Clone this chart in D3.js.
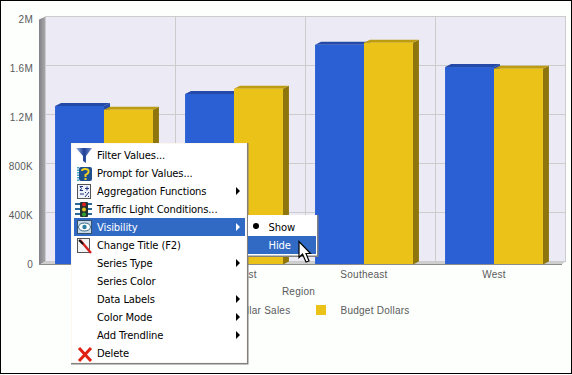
<!DOCTYPE html>
<html>
<head>
<meta charset="utf-8">
<script src="https://cdnjs.cloudflare.com/ajax/libs/d3/7.8.5/d3.min.js"></script>
<style>
  html, body { margin: 0; padding: 0; background: #fff; overflow: hidden; }
  svg { display: block; }
  .chartText { font-family: "Liberation Sans", Arial, sans-serif; font-size: 10px; fill: #5a5a5a; letter-spacing: 0.25px; }
  .menuText { font-family: "DejaVu Sans", Tahoma, sans-serif; font-size: 10px; letter-spacing: -0.13px; }
  .domain { display: none; }
</style>
</head>
<body>
<div id="chart"></div>
<script>
// data
const regions = ["Midwest", "Northeast", "Southeast", "West"];
const seriesNames = ["Dollar Sales", "Budget Dollars"];
const dollarSales = [1294000, 1392000, 1794000, 1612000];
const budgetDollars = [1264000, 1435000, 1811000, 1598000];
const tickValues = [0, 400000, 800000, 1200000, 1600000, 2000000];
const tickLabels = ["0", "400K", "800K", "1.2M", "1.6M", "2M"];

const menuItems = ["Filter Values...", "Prompt for Values...", "Aggregation Functions", "Traffic Light Conditions...",
    "Visibility", "Change Title (F2)", "Series Type", "Series Color", "Data Labels", "Color Mode", "Add Trendline", "Delete"];
const menuArrows = ["Aggregation Functions", "Visibility", "Series Type", "Data Labels", "Color Mode", "Add Trendline"];
const subMenuItems = ["Show", "Hide"];

const colors = { blue: "#2b60d4", blueTop: "#2449a6", blueSide: "#2449a6", yellow: "#ebc218", yellowTop: "#bd9c12", yellowSide: "#8f760c" };
const depthX = 6, depthY = 3;

const svg = d3.select("#chart").append("svg").attr("width", 572).attr("height", 375);
const defs = svg.append("defs");

function gradient(id, stops, x2, y2) {
    const g = defs.append("linearGradient").attr("id", id).attr("x1", 0).attr("y1", 0).attr("x2", x2).attr("y2", y2);
    stops.forEach((c, i) => g.append("stop").attr("offset", i / (stops.length - 1)).attr("stop-color", c));
}
gradient("sideWall", ["#808086", "#aaaaae"], 1, 0);
gradient("funnel", ["#9db8e8", "#1f3f96", "#6f8fd0"], 1, 0);

// outer frame
svg.append("rect").attr("x", 0.5).attr("y", 0.5).attr("width", 571).attr("height", 373)
    .attr("fill", "#fdfffd").attr("stroke", "#000");

// back wall scales
const xBack = d3.scaleBand().domain(regions).range([45.5, 565.5]);
const y = d3.scaleLinear().domain([0, 2000000]).range([261.5, 16.5]);
// front of the bars sits one depth step in front of the wall
const xFront = d3.scaleBand().domain(regions).range([45 - depthX, 565 - depthX]).paddingInner(0.247).paddingOuter(0.1235);
const xSeries = d3.scaleBand().domain(seriesNames).range([0, xFront.bandwidth()]);
const yFront = v => y(v) + depthY;

// wall, floor
svg.append("rect").attr("x", xBack.range()[0]).attr("y", y(2000000))
    .attr("width", xBack.range()[1] - xBack.range()[0]).attr("height", y(0) - y(2000000)).attr("fill", "#eceaf5");
svg.append("path").attr("fill", "url(#sideWall)")
    .attr("d", d3.line()([[39, 19.5], [45.5, 16.5], [45.5, 261.5], [39, 265]]));
svg.append("path").attr("fill", "#cfcfcf")
    .attr("d", d3.line()([[39, 265], [45.5, 261.5], [565.5, 261.5], [561, 265]]));

// grid
const grid = svg.append("g");
grid.selectAll("line.h").data(tickValues).enter().append("line")
    .attr("x1", 45).attr("x2", 566).attr("y1", d => y(d)).attr("y2", d => y(d))
    .attr("stroke", "#cccccc").attr("stroke-width", 1);
grid.selectAll("line.v").data(regions.concat("end")).enter().append("line")
    .attr("x1", (d, i) => 45.5 + i * xBack.step()).attr("x2", (d, i) => 45.5 + i * xBack.step())
    .attr("y1", y(2000000)).attr("y2", y(0))
    .attr("stroke", "#cccccc").attr("stroke-width", 1);

// axes
const yAxis = d3.axisLeft(y).tickValues(tickValues).tickFormat((d, i) => tickLabels[i]).tickSize(0).tickPadding(0);
svg.append("g").attr("transform", "translate(33,3)").call(yAxis)
    .selectAll("text").attr("class", "chartText").attr("fill", null);
const xAxis = d3.axisBottom(xFront).tickSize(0).tickPadding(0);
svg.append("g").attr("transform", "translate(0,271)").call(xAxis)
    .selectAll("text").attr("class", "chartText").attr("fill", null);

svg.append("text").attr("class", "chartText").attr("x", 298.5).attr("y", 295).attr("text-anchor", "middle").text("Region");

// bars
const seriesData = [
    { name: seriesNames[0], values: dollarSales, front: colors.blue, top: colors.blueTop, side: colors.blueSide },
    { name: seriesNames[1], values: budgetDollars, front: colors.yellow, top: colors.yellowTop, side: colors.yellowSide }
];
regions.forEach((region, i) => {
    seriesData.forEach(s => {
        const x0 = xFront(region) + xSeries(s.name);
        const x1 = x0 + xSeries.bandwidth();
        const top = yFront(s.values[i]);
        const base = yFront(0);
        const g = svg.append("g");
        g.append("path").attr("fill", s.side)
            .attr("d", d3.line()([[x1, top], [x1 + depthX, top - depthY], [x1 + depthX, base - depthY], [x1, base]]));
        g.append("path").attr("fill", s.top)
            .attr("d", d3.line()([[x0, top], [x0 + depthX, top - depthY], [x1 + depthX, top - depthY], [x1, top]]));
        g.append("rect").attr("x", x0).attr("y", top).attr("width", x1 - x0).attr("height", base - top).attr("fill", s.front);
    });
});
svg.append("line").attr("x1", 39).attr("x2", 562).attr("y1", 264.5).attr("y2", 264.5).attr("stroke", "#8c8c8c");

// legend
const legendX = [209, 316];
seriesData.forEach((s, i) => {
    svg.append("rect").attr("x", legendX[i]).attr("y", 305).attr("width", 10).attr("height", 10).attr("fill", s.front);
    svg.append("text").attr("class", "chartText").attr("x", legendX[i] + 24.5).attr("y", 313.5).text(s.name);
});

// context menu
const menuX = 71, menuY = 143, menuW = 176, menuH = 220, rowH = 18, menuTop = 146;
const menu = svg.append("g");
menu.append("rect").attr("x", menuX).attr("y", menuY).attr("width", menuW + 1.5).attr("height", menuH + 1.5).attr("fill", "#808080");
menu.append("rect").attr("x", menuX).attr("y", menuY).attr("width", menuW).attr("height", menuH).attr("fill", "#fbf7ee");
menu.append("rect").attr("x", menuX + 1).attr("y", menuY + 1).attr("width", menuW - 2).attr("height", menuH - 2).attr("fill", "#ffffff");
menuItems.forEach((label, i) => {
    const rowY = menuTop + i * rowH;
    const active = label === "Visibility";
    if (active) menu.append("rect").attr("x", 74).attr("y", rowY).attr("width", 171).attr("height", rowH).attr("fill", "#316ac5");
    menu.append("text").attr("class", "menuText").attr("x", 97).attr("y", rowY + 13)
        .style("fill", active ? "#fff" : "#000").text(label);
    if (menuArrows.includes(label)) {
        menu.append("path").attr("fill", active ? "#fff" : "#000")
            .attr("d", d3.line()([[236, rowY + 5], [240, rowY + 9], [236, rowY + 13]]));
    }
});

// menu icons, simple shapes
const icons = svg.append("g");
// filter
icons.append("path").attr("fill", "url(#funnel)").attr("d", "M76,148 L92,148 L86,156 L86,163 L83,161 L83,156 Z");
// prompt
icons.append("rect").attr("x", 79).attr("y", 167).attr("width", 13).attr("height", 14).attr("rx", 2).attr("fill", "#1d4f8f");
icons.append("path").attr("stroke", "#4aa3c8").attr("stroke-width", 2).attr("stroke-dasharray", "1.5 1").attr("d", "M78,167 L78,181");
icons.append("path").attr("fill", "none").attr("stroke", "#f0d020").attr("stroke-width", 2)
    .attr("d", "M82,171 Q82,169 85,169 Q89,169 88.5,172 Q88,174 85.5,175 L85.5,177 M85.5,178 L85.5,180");
// aggregation
icons.append("rect").attr("x", 77.5).attr("y", 184.5).attr("width", 13).attr("height", 14).attr("fill", "#eef2fa").attr("stroke", "#555");
icons.append("path").attr("fill", "none").attr("stroke", "#1f2f80").attr("stroke-width", 1)
    .attr("d", "M83,186.5 L80,186.5 L81.5,188.5 L80,190.5 L83,190.5 M85,188.5 L89,188.5 M87,186.5 L87,190.5 M80,194 L84,194 M85,197 L89,192 M85,192.5 L86,192.5 M88,196.5 L89,196.5");
// traffic light
icons.append("path").attr("fill", "none").attr("stroke", "#2a6a9a").attr("stroke-width", 2)
    .attr("d", "M75,204 L92,204 M75,209 L92,209 M75,214 L92,214");
icons.append("rect").attr("x", 80).attr("y", 202).attr("width", 8).attr("height", 15).attr("rx", 1).attr("fill", "#223333");
["#e02020", "#e8c820", "#30a030"].forEach((c, i) => {
    icons.append("circle").attr("cx", 84).attr("cy", 204.5 + i * 5).attr("r", 2).attr("fill", c);
});
// eye, sits on the blue row
icons.append("rect").attr("x", 77.5).attr("y", 220.5).attr("width", 14).attr("height", 13).attr("fill", "#c8d8e4").attr("stroke", "#34506a");
icons.append("ellipse").attr("cx", 84.5).attr("cy", 227).attr("rx", 6).attr("ry", 4).attr("fill", "#fff").attr("stroke", "#3a6a8a");
icons.append("circle").attr("cx", 84.5).attr("cy", 227).attr("r", 2.2).attr("fill", "#2a7fa0");
// change title
icons.append("rect").attr("x", 77.5).attr("y", 238.5).attr("width", 12).attr("height", 14).attr("fill", "#f4f4f4").attr("stroke", "#555");
icons.append("line").attr("x1", 80).attr("y1", 240).attr("x2", 91).attr("y2", 253).attr("stroke", "#d02020").attr("stroke-width", 2.4);
icons.append("line").attr("x1", 79).attr("y1", 240).attr("x2", 83).attr("y2", 244).attr("stroke", "#111").attr("stroke-width", 2);
// delete
icons.append("path").attr("stroke", "#e02010").attr("stroke-width", 3).attr("fill", "none").attr("d", "M79,348 L91,361 M91,348 L79,361");

// sub menu
const subX = 248, subY = 215, subTop = 218;
const sub = svg.append("g");
sub.append("rect").attr("x", subX).attr("y", subY).attr("width", 70.5).attr("height", 42).attr("fill", "#808080");
sub.append("rect").attr("x", subX).attr("y", subY).attr("width", 69).attr("height", 40.5).attr("fill", "#ffffff");
sub.append("rect").attr("x", subX).attr("y", subTop + 18).attr("width", 68).attr("height", 18).attr("fill", "#316ac5");
subMenuItems.forEach((label, i) => {
    sub.append("text").attr("class", "menuText").attr("x", 268.5).attr("y", subTop + 13 + i * 18)
        .style("fill", i === 1 ? "#fff" : "#000").text(label);
});
sub.append("circle").attr("cx", 256).attr("cy", 226).attr("r", 3).attr("fill", "#000");

// mouse pointer
svg.append("path").attr("fill", "#fff").attr("stroke", "#000").attr("stroke-width", 1.2)
    .attr("d", "M299,241.5 L299,257.5 L302.5,254 L306,262 L309,261 L306,253.5 L310.5,253.5 Z");
</script>
</body>
</html>
